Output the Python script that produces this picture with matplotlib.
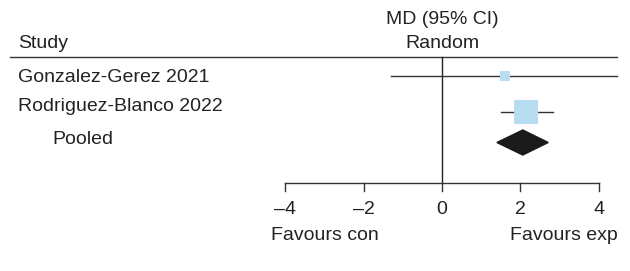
import matplotlib
matplotlib.use("Agg")
import matplotlib.pyplot as plt
from matplotlib.patches import Polygon

plt.rcParams['font.family'] = ['Liberation Sans', 'DejaVu Sans']

# datos del forest plot (MD, IC 95%)
estudios = ['Gonzalez-Gerez 2021', 'Rodriguez-Blanco 2022']
md = [1.60, 2.14]
ic_inf = [-1.30, 1.51]
ic_sup = [4.46, 2.84]
peso_px = [10, 24]  # lado del cuadrado en px
pooled_md = 2.06
pooled_inf = 1.40
pooled_sup = 2.71
ticks = [-4, -2, 0, 2, 4]
tick_labels = ['\u20134', '\u20132', '0', '2', '4']

fig = plt.figure(figsize=(6.3, 2.71), dpi=100)
ax = fig.add_axes([0, 0, 1, 1])
# escala: 0 en x=442 px, 39.2 px por unidad; fila = 36 px, fila 0 en y=76 px
px_u = 39.2
row_px = 36.0
ax.set_xlim(-442 / px_u, (630 - 442) / px_u)
ax.set_ylim((271 - 76) / row_px, -76 / row_px)
ax.axis('off')

def ypx(p):  # px -> unidades de fila
    return (p - 76) / row_px

def xpx(p):
    return (p - 442) / px_u

txt = '#222222'
fs = 14

# encabezados
ax.text(xpx(18), ypx(43.5), 'Study', ha='left', va='center', fontsize=fs, color=txt)
ax.text(0, ypx(19.5), 'MD (95% CI)', ha='center', va='center', fontsize=fs, color=txt)
ax.text(0, ypx(43.5), 'Random', ha='center', va='center', fontsize=fs, color=txt)
ax.plot([xpx(10), xpx(617)], [ypx(57), ypx(57)], color='#333333', lw=1.0)

# linea vertical en 0
ax.plot([0, 0], [ypx(57), ypx(183)], color='#222222', lw=1.0)

# estudios
for i, (nombre, m, lo, hi, s) in enumerate(zip(estudios, md, ic_inf, ic_sup, peso_px)):
    ax.plot([lo, hi], [i, i], color='#333333', lw=1.0, zorder=2)
    ax.plot(m, i, marker='s', markersize=s * 0.72, color='#b8dcf2',
            markeredgewidth=0, zorder=3)
ax.text(xpx(18), ypx(77.5), estudios[0], ha='left', va='center', fontsize=fs, color=txt)
ax.text(xpx(18), ypx(106.5), estudios[1], ha='left', va='center', fontsize=fs, color=txt)

# pooled
y_pool = ypx(142.5)
h = 12.5 / row_px
diamante = Polygon([[pooled_inf, y_pool], [pooled_md, y_pool - h],
                    [pooled_sup, y_pool], [pooled_md, y_pool + h]],
                   closed=True, color='#1a1a1a', zorder=3)
ax.add_patch(diamante)
ax.text(xpx(52), ypx(139), 'Pooled', ha='left', va='center', fontsize=fs, color=txt)

# eje x
y_eje = ypx(183)
ax.plot([ticks[0], ticks[-1]], [y_eje, y_eje], color='#333333', lw=1.0)
for t, lab in zip(ticks, tick_labels):
    ax.plot([t, t], [y_eje, y_eje + 8 / row_px], color='#333333', lw=1.0)
    ax.text(t, ypx(210), lab, ha='center', va='center', fontsize=fs, color=txt)

ax.text(-3, ypx(235), 'Favours con', ha='center', va='center', fontsize=fs, color=txt)
ax.text(3.1, ypx(235), 'Favours exp', ha='center', va='center', fontsize=fs, color=txt)

fig.savefig('out.png', dpi=100, facecolor='white')
